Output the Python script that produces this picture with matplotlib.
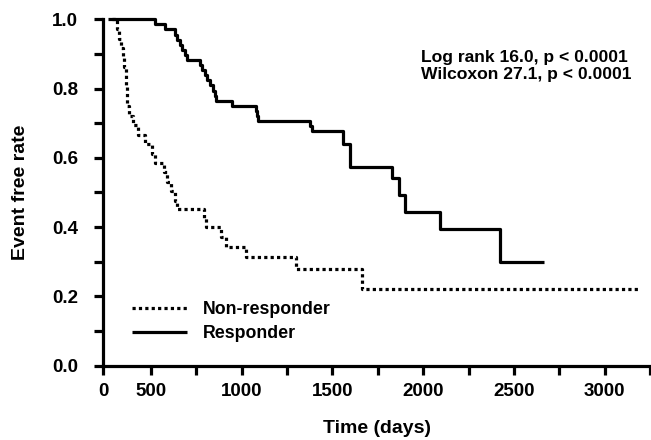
import numpy as np
import matplotlib
matplotlib.use("Agg")
import matplotlib.pyplot as plt
from matplotlib.ticker import FixedLocator, NullFormatter

# ---- data ----
nr_times = [88, 140, 165, 185, 205, 221, 235, 243, 245, 247, 270, 315, 365, 435, 505,
            522, 570, 590, 608, 632, 642, 790, 805, 885, 915, 1025, 1300, 1663, 3184]
nr_surv = [1.0, 0.972, 0.944, 0.917, 0.889, 0.861, 0.833, 0.806, 0.778, 0.750, 0.722,
           0.694, 0.667, 0.639, 0.611, 0.586, 0.558, 0.530, 0.503, 0.475, 0.452, 0.427,
           0.401, 0.372, 0.344, 0.315, 0.278, 0.221, 0.221]

r_times = [50, 522, 577, 632, 645, 660, 672, 688, 697, 771, 783, 795, 807, 825, 843, 850,
           857, 945, 1080, 1086, 1092, 1377, 1385, 1557, 1597, 1827, 1864, 1898, 2093,
           2423, 2667]
r_surv = [1.0, 0.985, 0.971, 0.956, 0.941, 0.926, 0.912, 0.897, 0.882, 0.868, 0.853,
          0.838, 0.824, 0.809, 0.794, 0.779, 0.765, 0.750, 0.735, 0.720, 0.706, 0.692,
          0.678, 0.639, 0.574, 0.541, 0.493, 0.443, 0.395, 0.300, 0.300]

labels = ["Non-responder", "Responder"]
x_major = [0, 500, 1000, 1500, 2000, 2500, 3000]
x_minor = [750, 1250, 1750, 2250, 2750, 3250]
y_major = [0.0, 0.2, 0.4, 0.6, 0.8, 1.0]
y_minor = [0.1, 0.3, 0.5, 0.7, 0.9]
stats_text = "Log rank 16.0, p < 0.0001\nWilcoxon 27.1, p < 0.0001"

# ---- style ----
plt.rcParams['font.family'] = ['Liberation Sans', 'DejaVu Sans']
LW = 2.3

fig = plt.figure(figsize=(6.51, 4.40), dpi=100)
ax = fig.add_axes([103.3 / 651, 1 - 365.7 / 440, (650 - 103.3) / 651, (365.7 - 19.3) / 440])

# Axis with compressed 0-500 segment (as in the reference)
K = 0.526
def fwd(x):
    x = np.asarray(x, dtype=float)
    return np.where(x < 500, x * K, 500 * K + (x - 500))
def inv(y):
    y = np.asarray(y, dtype=float)
    return np.where(y < 500 * K, y / K, y - 500 * K + 500)
ax.set_xscale('function', functions=(fwd, inv))

ax.step(nr_times, nr_surv, where='post', color='black', lw=LW,
        linestyle=(0, (1, 1)), dash_capstyle='butt', clip_on=False, label=labels[0])
ax.step(r_times, r_surv, where='post', color='black', lw=LW,
        solid_capstyle='butt', clip_on=False, label=labels[1])

ax.set_xlim(0, 3250)
ax.set_ylim(0, 1.0)

for s in ['top', 'right']:
    ax.spines[s].set_visible(False)
for s in ['left', 'bottom']:
    ax.spines[s].set_linewidth(LW)

ax.xaxis.set_major_locator(FixedLocator(x_major))
ax.xaxis.set_minor_locator(FixedLocator(x_minor))
ax.xaxis.set_minor_formatter(NullFormatter())
ax.yaxis.set_major_locator(FixedLocator(y_major))
ax.yaxis.set_minor_locator(FixedLocator(y_minor))
ax.yaxis.set_minor_formatter(NullFormatter())
ax.set_xticklabels([str(v) for v in x_major])
ax.set_yticklabels([f"{v:.1f}" for v in y_major])

ax.tick_params(axis='both', which='both', direction='out', length=6.5, width=LW)
ax.tick_params(axis='x', which='major', pad=6, labelsize=13.5)
ax.tick_params(axis='y', which='major', pad=11.5, labelsize=13.5)
for t in ax.get_xticklabels() + ax.get_yticklabels():
    t.set_fontweight('bold')

ax.set_xlabel("Time (days)", fontsize=14, fontweight='bold')
ax.set_ylabel("Event free rate", fontsize=14, fontweight='bold')
ax.xaxis.set_label_coords(0.5, -0.158)
ax.yaxis.set_label_coords(-0.136, 0.5)

ax.text((421 - 103.3) / 546.7, (365.7 - 50) / 346.4, stats_text, transform=ax.transAxes,
        ha='left', va='top', fontsize=12.6, fontweight='bold', linespacing=1.17)

leg = ax.legend(loc='upper left', bbox_to_anchor=((131.7 - 103.3) / 546.7, (365.7 - 301) / 346.4),
                frameon=False, borderpad=0, borderaxespad=0, handlelength=3.1,
                handletextpad=0.9, labelspacing=0.4,
                prop={'size': 12.8, 'weight': 'bold'})

fig.savefig("out.png", dpi=100)
